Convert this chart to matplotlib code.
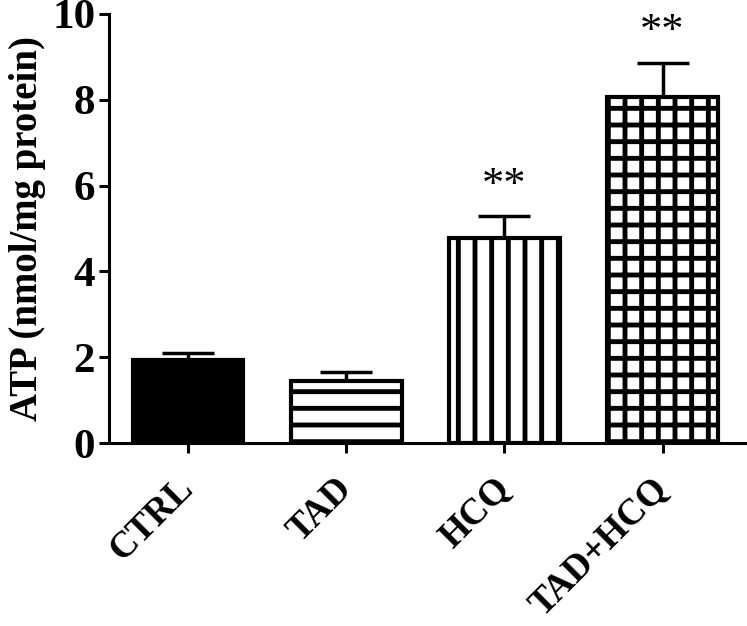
import numpy as np
import matplotlib.pyplot as plt

groups = ['CTRL', 'TAD', 'HCQ', 'TAD+HCQ']
atp = [1.93, 1.45, 4.78, 8.07]
sem = [0.18, 0.20, 0.50, 0.78]
hatches = [None, '-', '|', '+']
stars = ['', '', '**', '**']

plt.rcParams['font.family'] = 'Liberation Serif'
plt.rcParams['font.weight'] = 'bold'
plt.rcParams['hatch.linewidth'] = 3.5
plt.rcParams['hatch.color'] = 'black'

fig = plt.figure(figsize=(7.47, 6.26), dpi=100)
ax = fig.add_axes([0.146, 0.292, 0.851, 0.686])

x = np.arange(len(groups))
for i in range(len(groups)):
    face = 'black' if hatches[i] is None else 'white'
    ax.bar(x[i], atp[i], width=0.70, color=face, edgecolor='black',
           linewidth=3, hatch=hatches[i], zorder=2)
    ax.errorbar(x[i], atp[i], yerr=[[0], [sem[i]]], fmt='none', ecolor='black',
                elinewidth=2.5, capsize=19, capthick=2.5, zorder=1)
    if stars[i]:
        ax.text(x[i], atp[i] + sem[i] + 0.72, stars[i], ha='center', va='center',
                fontsize=32, fontweight='normal')

ax.set_xlim(-0.5, 3.52)
ax.set_ylim(0, 10)
ax.set_yticks([0, 2, 4, 6, 8, 10])
ax.set_xticks(x)
ax.set_xticklabels(groups, rotation=45, ha='right', va='center',
                   rotation_mode='anchor', fontsize=26.5)
ax.tick_params(axis='y', labelsize=31, width=2.2, length=7, pad=3)
ax.tick_params(axis='x', width=2.2, length=7, pad=22)
ax.set_ylabel('ATP (nmol/mg protein)', fontsize=28, fontweight='bold', labelpad=4)

for s in ['top', 'right']:
    ax.spines[s].set_visible(False)
for s in ['left', 'bottom']:
    ax.spines[s].set_linewidth(2.2)

plt.savefig('out.png', dpi=100)
